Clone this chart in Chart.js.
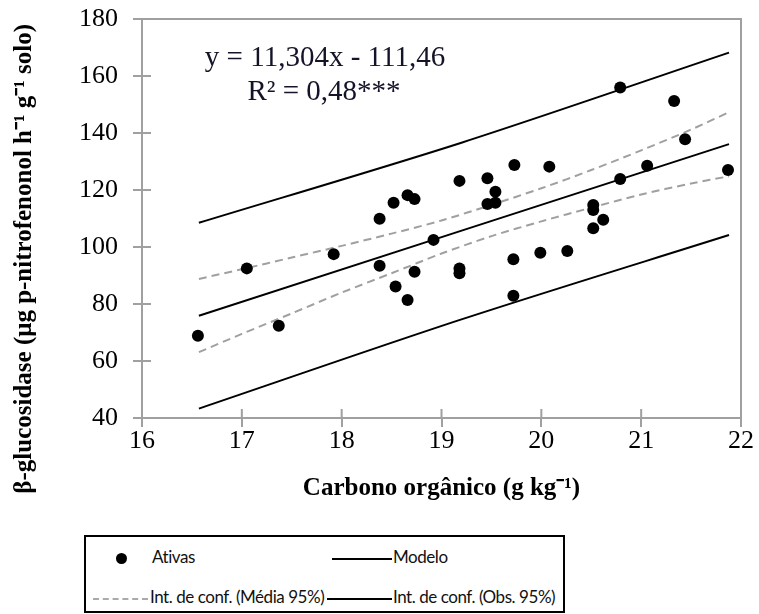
<!DOCTYPE html>
<html>
<head>
<meta charset="utf-8">
<script src="https://cdn.jsdelivr.net/npm/chart.js@4"></script>
<style>
  body { margin: 0; background: #fff; }
  #wrap { position: relative; width: 759px; height: 614px; }
  #chartBox { position: absolute; left: 0; top: 0; width: 759px; height: 530px; }
  #legend { position: absolute; left: 84px; top: 535px; width: 481px; height: 78px; border: 2px solid #000; box-sizing: border-box; font-family: Lato, sans-serif; font-size: 17px; color: #111; }
  #legend span { position: absolute; }
  .txt { line-height: 20px; margin-top: -12px; white-space: nowrap; letter-spacing: -0.45px; }
  .dot { width: 11px; height: 11px; border-radius: 50%; background: #000; margin-top: -6px; }
  .solid { border-top: 2px solid #000; margin-top: -1px; }
  .dash { border-top: 2px dashed #aaa; margin-top: -1px; }
</style>
</head>
<body>
<div id="wrap">
  <div id="chartBox"><canvas id="chart"></canvas></div>
  <div id="legend">
    <span class="dot" style="left:30px; top:22px"></span>
    <span class="txt" style="left:66px; top:22px">Ativas</span>
    <span class="solid" style="left:246px; top:22px; width:60px"></span>
    <span class="txt" style="left:307px; top:22px">Modelo</span>
    <span class="dash" style="left:7px; top:62px; width:55px"></span>
    <span class="txt" style="left:64px; top:62px">Int. de conf. (Média 95%)</span>
    <span class="solid" style="left:241px; top:62px; width:65px"></span>
    <span class="txt" style="left:307px; top:62px">Int. de conf. (Obs. 95%)</span>
  </div>
</div>
<script>
// Observed points (Ativas)
const ativasX = [16.56, 17.05, 17.37, 17.92, 18.38, 18.38, 18.52, 18.54, 18.66, 18.73, 18.66, 18.73,
                 18.92, 19.18, 19.18, 19.18, 19.46, 19.46, 19.54, 19.54, 19.73, 19.72, 19.72, 19.99,
                 20.08, 20.26, 20.52, 20.52, 20.52, 20.62, 20.79, 20.79, 21.06, 21.33, 21.44, 21.87];
const ativasY = [68.9, 92.5, 72.4, 97.5, 109.9, 93.4, 115.5, 86.1, 118.2, 116.8, 81.4, 91.3,
                 102.5, 123.2, 92.5, 90.8, 124.1, 115.1, 119.4, 115.5, 128.8, 95.7, 82.9, 98.0,
                 128.2, 98.6, 114.7, 113.0, 106.6, 109.6, 156.0, 123.9, 128.5, 151.2, 137.8, 127.0];

// Regression line (Modelo) end points
const modeloX = [16.57, 21.88];
const modeloY = [75.9, 136.1];

// Confidence interval for the mean (dashed)
const mediaX = [16.57, 17.0, 17.5, 18.0, 18.5, 19.0, 19.5, 20.0, 20.5, 21.0, 21.5, 21.88];
const mediaSup = [88.8, 92.2, 96.3, 100.4, 104.7, 109.3, 114.8, 120.6, 127.0, 133.9, 141.2, 147.3];
const mediaInf = [63.1, 69.5, 76.7, 84.0, 90.8, 97.7, 103.8, 109.0, 113.8, 118.4, 122.3, 124.8];

// Interval for observations (solid)
const obsX = [16.57, 19.2, 21.88];
const obsSup = [108.5, 136.6, 168.2];
const obsInf = [43.3, 74.6, 104.2];

const xTicks = [16, 17, 18, 19, 20, 21, 22];
const yTicks = [40, 60, 80, 100, 120, 140, 160, 180];

const eqLine1 = 'y = 11,304x - 111,46';
const eqLine2 = 'R\u00B2 = 0,48***';
const xTitle = 'Carbono org\u00E2nico (g kg\u207B\u00B9)';
const yTitle = '\u03B2-glucosidase (\u03BCg p-nitrofenonol h\u207B\u00B9 g\u207B\u00B9 solo)';

const pts = (xs, ys) => xs.map((x, i) => ({ x: x, y: ys[i] }));

function lineSet(label, xs, ys, color, dash) {
    return {
        label: label,
        data: pts(xs, ys),
        showLine: true,
        borderColor: color,
        borderWidth: 2,
        borderDash: dash || [],
        pointRadius: 0,
        tension: 0.3,
        fill: false
    };
}

const gray = '#a0a0a0';

// Frame, inner tick halves and texts
const decorations = {
    id: 'decorations',
    beforeDatasetsDraw(chart) {
        const { ctx, chartArea: a, scales } = chart;
        ctx.save();
        ctx.strokeStyle = gray;
        ctx.lineWidth = 2;
        ctx.strokeRect(a.left, a.top, a.right - a.left, a.bottom - a.top);
        ctx.beginPath();
        yTicks.forEach(v => {
            const y = scales.y.getPixelForValue(v);
            ctx.moveTo(a.left, y);
            ctx.lineTo(a.left + 9, y);
        });
        xTicks.forEach(v => {
            const x = scales.x.getPixelForValue(v);
            ctx.moveTo(x, a.bottom);
            ctx.lineTo(x, a.bottom - 9);
        });
        ctx.stroke();
        ctx.restore();
    },
    afterDraw(chart) {
        const { ctx } = chart;
        ctx.save();
        ctx.fillStyle = '#141428';
        ctx.font = '29px "Liberation Serif"';
        ctx.textAlign = 'center';
        ctx.textBaseline = 'alphabetic';
        ctx.fillText(eqLine1, 325, 66);
        ctx.fillText(eqLine2, 324, 100);

        ctx.fillStyle = '#000';
        ctx.font = 'bold 25px "Liberation Serif"';
        ctx.translate(25, 24);
        ctx.rotate(-Math.PI / 2);
        ctx.textAlign = 'right';
        ctx.textBaseline = 'middle';
        ctx.fillText(yTitle, 0, 0);
        ctx.restore();
    }
};

const ctx = document.getElementById('chart').getContext('2d');
const chart = new Chart(ctx, {
    type: 'scatter',
    data: {
        datasets: [
            {
                label: 'Ativas',
                data: pts(ativasX, ativasY),
                backgroundColor: '#000',
                borderColor: '#000',
                pointRadius: 6,
                pointBorderWidth: 0
            },
            lineSet('Modelo', modeloX, modeloY, '#000'),
            lineSet('Int. de conf. (Média 95%)', mediaX, mediaSup, gray, [8, 5]),
            lineSet('Int. de conf. (Média 95%) inf', mediaX, mediaInf, gray, [8, 5]),
            lineSet('Int. de conf. (Obs. 95%)', obsX, obsSup, '#000'),
            lineSet('Int. de conf. (Obs. 95%) inf', obsX, obsInf, '#000')
        ]
    },
    options: {
        responsive: true,
        maintainAspectRatio: false,
        animation: false,
        layout: { padding: { top: 19, right: 18, left: 0, bottom: 0 } },
        plugins: {
            legend: { display: false },
            tooltip: { enabled: false }
        },
        scales: {
            x: {
                type: 'linear',
                min: 16,
                max: 22,
                afterBuildTicks: s => { s.ticks = xTicks.map(v => ({ value: v })); },
                afterFit: s => { s.height = 112; s.paddingLeft = 0; s.paddingRight = 0; },
                ticks: {
                    color: '#000',
                    padding: 1,
                    font: { family: '"Liberation Serif"', size: 26, lineHeight: 1 }
                },
                grid: { drawOnChartArea: false, tickLength: 9, color: gray, lineWidth: 2 },
                border: { color: gray, width: 2 },
                title: {
                    display: true,
                    text: xTitle,
                    color: '#000',
                    padding: { top: 0, bottom: 26 },
                    font: { family: '"Liberation Serif"', size: 25, weight: 'bold' }
                }
            },
            y: {
                type: 'linear',
                min: 40,
                max: 180,
                afterBuildTicks: s => { s.ticks = yTicks.map(v => ({ value: v })); },
                afterFit: s => { s.width = 142; s.paddingTop = 0; s.paddingBottom = 0; },
                ticks: {
                    color: '#000',
                    padding: 15,
                    font: { family: '"Liberation Serif"', size: 26 }
                },
                grid: { drawOnChartArea: false, tickLength: 9, color: gray, lineWidth: 2 },
                border: { color: gray, width: 2 }
            }
        }
    },
    plugins: [decorations]
});
</script>
</body>
</html>
